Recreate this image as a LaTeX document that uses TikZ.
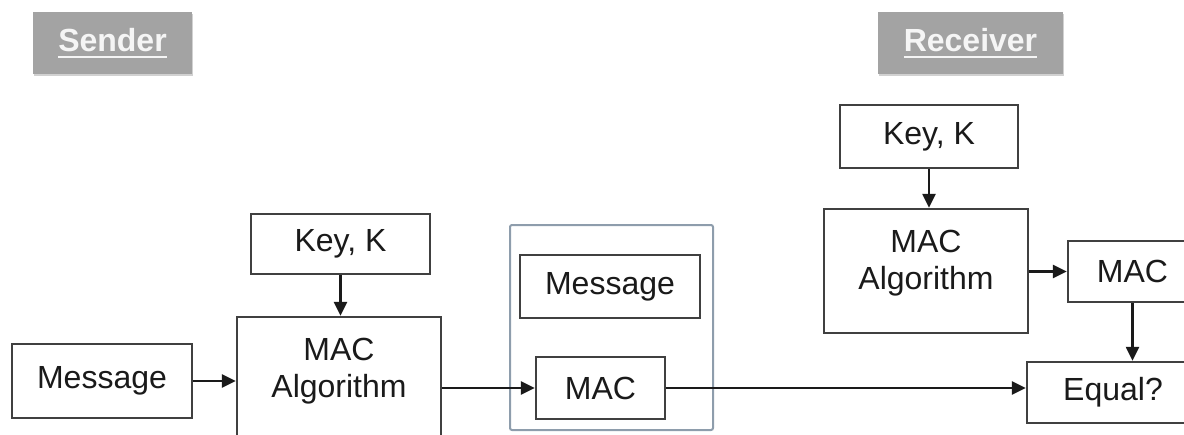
\documentclass[tikz,border=0pt]{standalone}
\usepackage{fontspec}
\setmainfont{Liberation Sans}
\usetikzlibrary{arrows.meta,shadows}
\definecolor{lblgray}{RGB}{163,163,163}
\definecolor{edgegray}{RGB}{64,64,64}
\definecolor{contgray}{RGB}{142,157,172}
\definecolor{ink}{RGB}{26,26,26}
\newcommand\myul[1]{\setbox0\hbox{#1}\rlap{\rule[-6pt]{\wd0}{2pt}}\box0}
\begin{document}
\begin{tikzpicture}[x=1pt,y=-1pt,
 box/.style={draw=edgegray, line width=2.3pt, fill=white, rectangle, inner sep=0pt,
   font=\fontsize{32}{37}\selectfont, text=ink},
 algtext/.style={anchor=north, yshift=-22pt, align=center, inner sep=0pt,
   font=\fontsize{32}{37}\selectfont, text=ink},
 lbl/.style={fill=lblgray, inner sep=0pt, text=white!96!black,
   font=\bfseries\fontsize{32}{37}\selectfont,
   drop shadow={shadow xshift=1pt, shadow yshift=-2pt, fill=black!30, opacity=0.6}},
 arr/.style={draw=ink, line width=2.3pt, -{Triangle[length=14pt,width=13pt]}},
 container/.style={draw=contgray, line width=2pt, rounded corners=2pt, inner sep=0pt}
]
\useasboundingbox (0,0) rectangle (1184,434);
\clip (0,0) rectangle (1184,434);

% headers
\node[lbl, minimum width=159pt, minimum height=62pt] (sender) at (112.5,43) {\myul{Sender}};
\node[lbl, minimum width=185pt, minimum height=62pt] (receiver) at (970.5,43) {\myul{Receiver}};

% sender side
\node[box, minimum width=179pt, minimum height=60pt] (key1) at (340.5,244) {Key, K};
\node[box, minimum width=204pt, minimum height=153pt,
  label={[algtext]north:{MAC\\Algorithm}}] (alg1) at (339,393.5) {};
\node[box, minimum width=180pt, minimum height=74pt] (msg1) at (102,381) {Message};

% transmitted packet
\node[container, minimum width=203pt, minimum height=205pt] (pkt) at (611.5,327.5) {};
\node[box, minimum width=180pt, minimum height=63pt] (msg2) at (610,286.5) {Message};
\node[box, minimum width=129pt, minimum height=62pt] (mac2) at (600.5,388) {MAC};

% receiver side
\node[box, minimum width=178pt, minimum height=63pt] (key2) at (929,136.5) {Key, K};
\node[box, minimum width=204pt, minimum height=124pt,
  label={[algtext]north:{MAC\\Algorithm}}] (alg2) at (926,271) {};
\node[box, minimum width=129pt, minimum height=61pt] (mac3) at (1132.5,271.5) {MAC};
\node[box, minimum width=172pt, minimum height=61pt] (eq) at (1113,392.5) {Equal?};

% connectors
\draw[arr] (key1.south) -- (key1.south |- alg1.north);
\draw[arr] (msg1.east) -- (msg1.east -| alg1.west);
\draw[arr] (alg1.east |- mac2.west) -- (mac2.west);
\draw[arr] (mac2.east) -- (mac2.east -| eq.west);
\draw[arr] (key2.south) -- (key2.south |- alg2.north);
\draw[arr] (alg2.east |- mac3.west) -- (mac3.west);
\draw[arr] (mac3.south) -- (mac3.south |- eq.north);
\end{tikzpicture}
\end{document}
